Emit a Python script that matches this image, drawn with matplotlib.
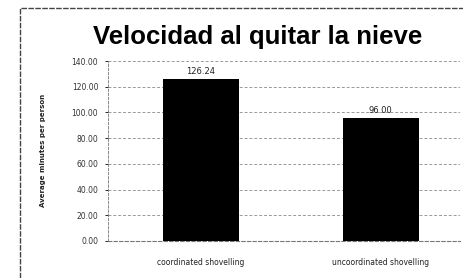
import matplotlib
matplotlib.use("Agg")
import matplotlib.pyplot as plt
from matplotlib.patches import Rectangle

categories = ["coordinated shovelling", "uncoordinated shovelling"]
values = [126.24, 96.00]
yticks = [0, 20, 40, 60, 80, 100, 120, 140]
title = "Velocidad al quitar la nieve"
ylabel = "Average minutes per person"

fig = plt.figure(figsize=(4.64, 2.78), dpi=100)
fig.patch.set_facecolor("white")
fig.patches.append(Rectangle((20/464, -0.05), 1.2, 1 - 8/278 + 0.05, transform=fig.transFigure,
                             fill=False, edgecolor="#444444", linewidth=1.0, linestyle=(0, (4, 1))))

ax = fig.add_axes([108/464, 1 - 241/278, 352/464, 180/278])
x = list(range(len(categories)))
ax.bar(x, values, width=0.42, color="black", zorder=3)
for xi, v in zip(x, values):
    ax.text(xi, v + 2, f"{v:.2f}", ha="center", va="bottom", fontsize=6, color="#222222")
ax.set_xlim(-0.517, 1.44)
ax.set_ylim(0, 140)
ax.set_yticks(yticks)
ax.set_yticklabels([f"{t:.2f}" for t in yticks], fontsize=5.5, color="#333333")
ax.set_xticks(x)
ax.set_xticklabels(categories, fontsize=5.5, color="#222222")
ax.tick_params(axis="x", length=0, pad=12)
ax.tick_params(axis="y", length=2, width=0.6, pad=5)
ax.yaxis.grid(True, linestyle=(0, (3, 2)), color="#999999", linewidth=0.7, zorder=0)
for s in ["top", "right"]:
    ax.spines[s].set_visible(False)
ax.spines["left"].set_linewidth(0.6)
ax.spines["left"].set_linestyle((0, (3, 2)))
ax.spines["left"].set_color("#777777")
ax.spines["bottom"].set_linewidth(0.8)
ax.spines["bottom"].set_linestyle((0, (3, 2)))
ax.spines["bottom"].set_color("#777777")
fig.text(43/464, 1 - 150/278, ylabel, rotation=90, ha="center", va="center",
         fontsize=5, fontweight="bold", color="#222222")
fig.text(258/464, 1 - 37/278, title, ha="center", va="center", fontsize=18.5,
         fontweight="bold", family="Liberation Sans")

fig.savefig("out.png", dpi=100)
